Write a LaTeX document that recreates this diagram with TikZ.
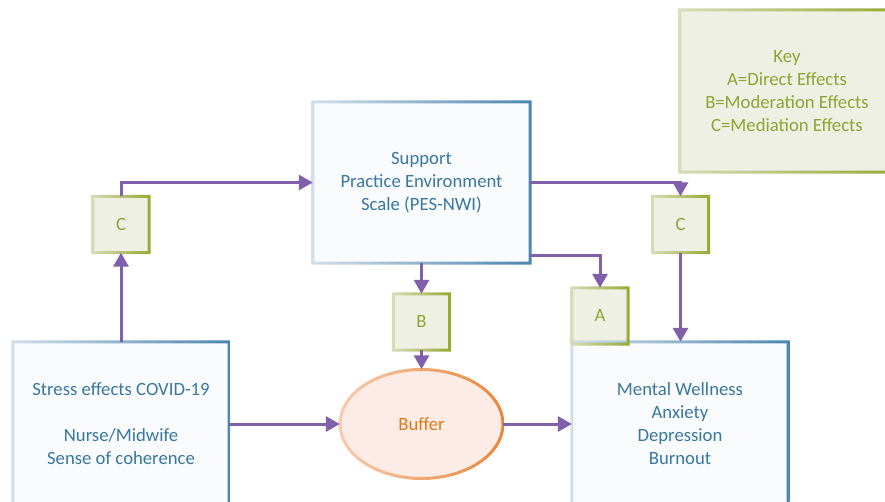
\documentclass[tikz,border=0pt]{standalone}
\usepackage{fontspec}
\setmainfont{Carlito}
\usetikzlibrary{arrows.meta,shapes.geometric}
\definecolor{txtblue}{HTML}{3777A0}
\definecolor{txtgreen}{HTML}{8CA534}
\definecolor{txtorange}{HTML}{D97A1E}
\definecolor{arrpurple}{HTML}{8060AA}
\definecolor{bluelight}{HTML}{D3DFEA}
\definecolor{bluedark}{HTML}{4A86AE}
\definecolor{greenlight}{HTML}{D7DDB8}
\definecolor{greendark}{HTML}{97A933}
\definecolor{orangelight}{HTML}{F8CBB0}
\definecolor{orangedark}{HTML}{E8863A}
\definecolor{bigfill}{HTML}{FAFBFD}
\definecolor{greenfill}{HTML}{EEF0E3}
\definecolor{bufffill}{HTML}{FDECE5}
\newcommand\gframe[3]{%
  \shade[even odd rule, left color=#2, right color=#3]
    ([shift={(-1.5,-1.5)}]#1.north west) rectangle ([shift={(1.5,1.5)}]#1.south east)
    ([shift={(1.5,1.5)}]#1.north west) rectangle ([shift={(-1.5,-1.5)}]#1.south east);}
\begin{document}
\begin{tikzpicture}[x=1pt,y=-1pt,
  bigbox/.style={rectangle, fill=bigfill, text=txtblue, align=center, inner sep=0pt,
    font=\fontsize{18.7}{23}\selectfont},
  letterbox/.style={rectangle, fill=greenfill, text=txtgreen, inner sep=0pt,
    minimum width=56pt, minimum height=56pt, font=\fontsize{18.7}{23}\selectfont},
  keybox/.style={rectangle, fill=greenfill, text=txtgreen, align=center, inner sep=0pt,
    font=\fontsize{18.7}{23}\selectfont},
  bufnode/.style={ellipse, fill=bufffill, text=txtorange, inner sep=0pt,
    minimum width=163pt, minimum height=109pt, font=\fontsize{18.7}{23}\selectfont},
  arr/.style={draw=arrpurple, line width=3pt, -{Triangle[length=14pt,width=15pt]}}]
\useasboundingbox (0,0) rectangle (885,502);
\clip (0,0) rectangle (885,502);

\node[bigbox, minimum width=217pt, minimum height=161pt] (sup) at (421.5,182.5)
  {Support\\Practice Environment\\Scale (PES-NWI)};
\node[bigbox, minimum width=216pt, minimum height=164pt] (st) at (121,424)
  {Stress effects COVID-19\\[23pt]Nurse/Midwife\\Sense of coherence};
\node[bigbox, minimum width=216pt, minimum height=164pt] (mw) at (680,424)
  {Mental Wellness\\Anxiety\\Depression\\Burnout};
\node[keybox, minimum width=214pt, minimum height=162pt] (key) at (787,91)
  {Key\\A=Direct Effects\\B=Moderation Effects\\C=Mediation Effects};
\node[letterbox] (c1) at (121,224.5) {C};
\node[letterbox] (c2) at (680.5,224.5) {C};
\node[letterbox] (b) at (421.5,322) {B};
\node[letterbox] (a) at (600,316) {A};
\node[bufnode] (buf) at (421.5,424) {Buffer};

\gframe{sup}{bluelight}{bluedark}
\gframe{st}{bluelight}{bluedark}
\gframe{mw}{bluelight}{bluedark}
\gframe{key}{greenlight}{greendark}
\gframe{c1}{greenlight}{greendark}
\gframe{c2}{greenlight}{greendark}
\gframe{b}{greenlight}{greendark}
\gframe{a}{greenlight}{greendark}
\shade[even odd rule, left color=orangelight, right color=orangedark]
  (buf.center) ellipse [x radius=83, y radius=56]
  (buf.center) ellipse [x radius=80, y radius=53];

\draw[arr] (c1.south |- st.north) -- (c1.south);
\draw[arr] (c1.north) |- (sup.west);
\draw[arr] (sup.east) -| (c2.north);
\draw[arr] (c2.south) -- (c2.south |- mw.north);
\draw[arr] ([yshift=8pt]sup.south east) -| (a.north);
\draw[arr] (b.north |- sup.south) -- (b.north);
\draw[arr] (b.south) -- (buf.north);
\draw[arr] (st.east) -- (buf.west);
\draw[arr] (buf.east) -- (mw.west);
\end{tikzpicture}
\end{document}
